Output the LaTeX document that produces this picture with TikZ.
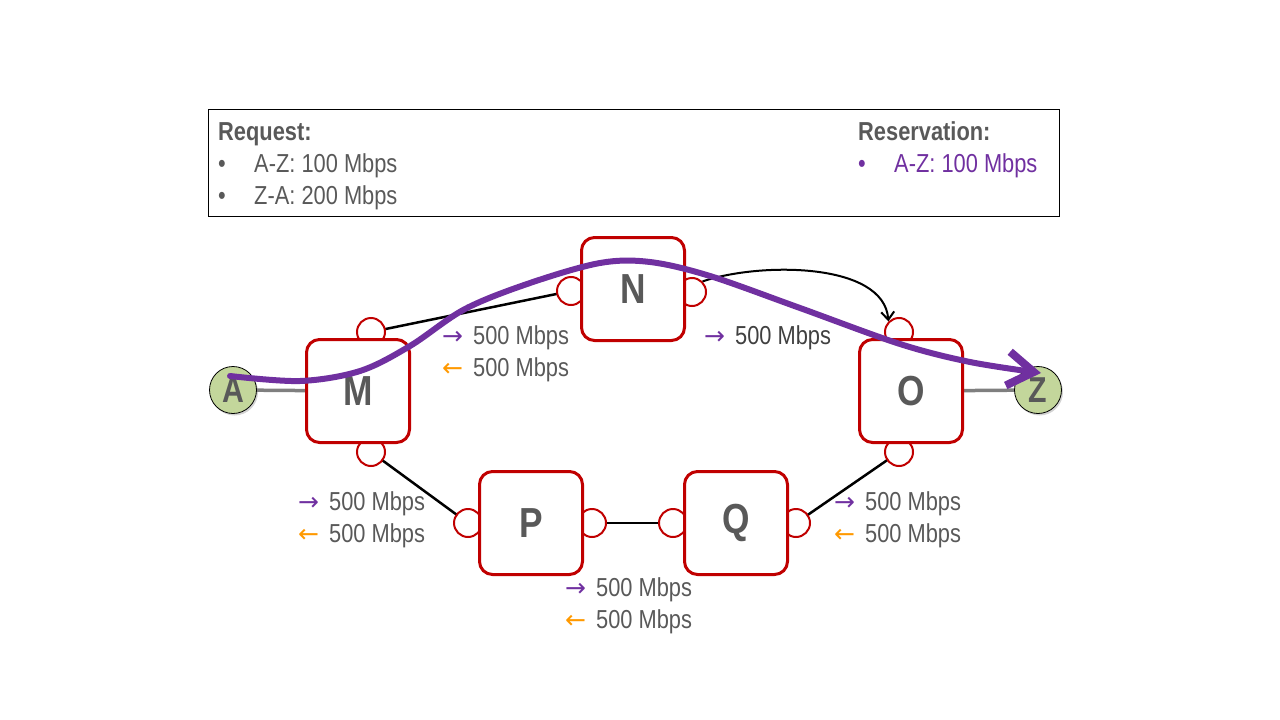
\documentclass[tikz,border=0pt]{standalone}
\usepackage{fontspec}
\setmainfont{Liberation Sans}[FakeStretch=0.84]
\newfontfamily\arrowfont{DejaVu Sans}
\usetikzlibrary{arrows.meta,shadows}
\pgfdeclarelayer{background}
\pgfsetlayers{background,main}

\definecolor{txtgrey}{HTML}{595959}
\definecolor{resvpurple}{HTML}{7030A0}
\definecolor{revorange}{HTML}{FF9900}
\definecolor{routerred}{HTML}{C00000}
\definecolor{endgreen}{HTML}{C3D69B}
\definecolor{accessgrey}{HTML}{7F7F7F}

% direction marks in front of each capacity
\newcommand{\fwdmark}{\textcolor{resvpurple}{\arrowfont\fontsize{25}{25}\selectfont →}}
\newcommand{\revmark}{\textcolor{revorange}{\arrowfont\fontsize{25}{25}\selectfont ←}}

\begin{document}
\begin{tikzpicture}[x=1pt,y=-1pt,
  router/.style={draw=routerred, line width=3pt, fill=white, rounded corners=13pt,
    minimum width=103pt, minimum height=103pt, inner sep=0pt, text=txtgrey,
    font=\fontsize{42}{42}\selectfont\bfseries},
  port/.style={circle, draw=routerred, line width=2pt, fill=white,
    minimum size=28pt, inner sep=0pt},
  endpt/.style={circle, draw=black, line width=0.8pt, fill=endgreen,
    minimum size=47pt, inner sep=0pt, text=txtgrey,
    font=\fontsize{36}{36}\selectfont\bfseries,
    drop shadow={opacity=0.35, shadow xshift=1.5pt, shadow yshift=-2pt}},
  link/.style={line width=2.5pt, black},
  access/.style={line width=3.5pt, accessgrey},
  txt/.style={anchor=base west, inner sep=0pt, text=txtgrey,
    font=\fontsize{26}{26}\selectfont},
  bul/.style={anchor=base, inner sep=0pt, text=txtgrey,
    font=\fontsize{26}{26}\selectfont},
  resv/.style={line width=6pt, resvpurple, line cap=round,
    -{Straight Barb[length=26pt,width=34pt,line width=8pt]}}
]
\useasboundingbox (0,0) rectangle (1280,720);

% request / reservation box
\node[draw=black, line width=1pt, minimum width=851pt, minimum height=107pt,
  inner sep=0pt, anchor=north west] (legend) at (208,109) {};
\node[txt, font=\fontsize{26}{26}\selectfont\bfseries] (reqhead) at (218,140) {Request:};
\node[bul] (reqb1) at (222,172) {•};
\node[txt] (req1) at (254,172) {A-Z: 100 Mbps};
\node[bul] (reqb2) at (222,204) {•};
\node[txt] (req2) at (254,204) {Z-A: 200 Mbps};
\node[txt, font=\fontsize{26}{26}\selectfont\bfseries] (reshead) at (858,140) {Reservation:};
\node[bul, text=resvpurple] (resb1) at (862,172) {•};
\node[txt, text=resvpurple] (res1) at (894,172) {A-Z: 100 Mbps};

% end points
\node[endpt] (A) at (233,390) {A};
\node[endpt] (Z) at (1038,390) {Z};

% ports (drawn before the routers so the routers sit on top)
\node[port] (Mt) at (371,332) {};
\node[port] (Mb) at (371,452) {};
\node[port] (Nl) at (571,291) {};
\node[port] (Nr) at (692,292) {};
\node[port] (Ot) at (899,332) {};
\node[port] (Ob) at (899,452) {};
\node[port] (Pl) at (468,523) {};
\node[port] (Pr) at (592,523) {};
\node[port] (Ql) at (673,523) {};
\node[port] (Qr) at (796,523) {};

% routers
\node[router] (M) at (358,391) {M};
\node[router] (N) at (633,289) {N};
\node[router] (O) at (911,391) {O};
\node[router] (P) at (531,523) {P};
\node[router] (Q) at (736,523) {Q};

% links
\begin{pgfonlayer}{background}
  \draw[access] (A.center) -- (M.center);
  \draw[access] (O.center) -- (Z.center);
  \draw[link] (Mt.center) -- (Nl.center);
  \draw[link] (Mb.center) -- (Pl.center);
  \draw[link] (Pr.center) -- (Ql.center);
  \draw[link] (Qr.center) -- (Ob.center);
\end{pgfonlayer}

% link capacities
\node[txt] (mn1) at (442,344) {\fwdmark\hspace{10pt}500 Mbps};
\node[txt] (mn2) at (442,376) {\revmark\hspace{10pt}500 Mbps};
\node[txt, text=black!75] (no1) at (704,344) {\fwdmark\hspace{10pt}500 Mbps};
\node[txt] (mp1) at (298,510) {\fwdmark\hspace{10pt}500 Mbps};
\node[txt] (mp2) at (298,542) {\revmark\hspace{10pt}500 Mbps};
\node[txt] (qo1) at (834,510) {\fwdmark\hspace{10pt}500 Mbps};
\node[txt] (qo2) at (834,542) {\revmark\hspace{10pt}500 Mbps};
\node[txt] (pq1) at (565,596) {\fwdmark\hspace{10pt}500 Mbps};
\node[txt] (pq2) at (565,628) {\revmark\hspace{10pt}500 Mbps};

% N to O hop
\draw[line width=2pt, black, -{Straight Barb[length=8pt,width=13pt,line width=2pt]}]
  (Nr.north east) .. controls (760,262) and (884,262) .. (Ot.north west);

% reserved path from A to Z
\coordinate (pstart) at (230,376);
\coordinate (pend) at (1041,373);
\draw[resv] plot[smooth, tension=0.55] coordinates {(pstart) (300,381) (360,371)
  (410,346) (465,309) (530,283) (600,263) (650,262) (710,276) (800,308)
  (900,344) (970,362) (pend)};
\end{tikzpicture}
\end{document}
